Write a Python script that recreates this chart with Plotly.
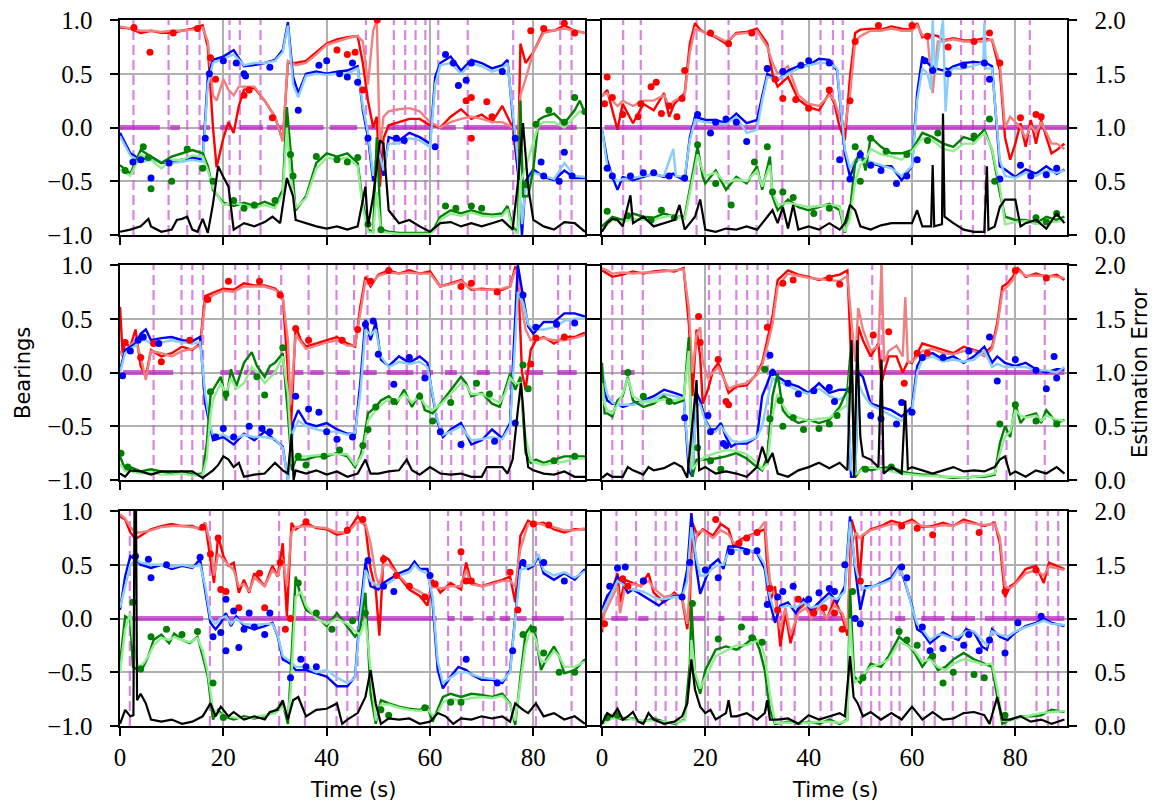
import plotly.graph_objects as go

# ---------------- data: (time, dark line, light line) ----------------
R1 = [(0,0.93,0.94),(2,0.92,0.92),(4,0.88,0.9),(6,0.9,0.9),(8,0.88,0.89),(10,0.88,0.9),(12,0.9,0.9),(14,0.92,0.91),(16,0.95,0.93),(17,0.75,0.8),(18,0.0,0.3),(18.7,-0.37,0.25),(20,-0.1,0.45),(21,0.05,0.35),(22,-0.05,0.3),(23,0.2,0.38),(24,0.35,0.38),(26,0.37,0.38),(28,0.25,0.25),(30,0.1,0.1),(31.5,-0.12,-0.13),(32.5,0.6,0.62),(34,0.6,0.58),(36,0.62,0.6),(38,0.7,0.68),(40,0.78,0.77),(42,0.82,0.8),(44,0.84,0.83),(46,0.85,0.85),(47,0.6,0.8),(48,0.25,0.4),(49,0.0,0.9),(49.7,0.1,1.0),(50.3,-0.55,-0.2),(51,-0.1,0.1),(52,0.02,0.15),(54,0.05,0.17),(56,0.08,0.18),(58,0.08,0.15),(60,0.02,0.05),(62,0.0,0.0),(64,0.1,0.05),(66,0.17,0.08),(68,0.08,0.1),(70,0.12,0.08),(72,0.05,0.05),(74,0.2,0.05),(76,0.0,0.0),(77,-0.4,-0.2),(77.5,0.78,0.3),(78.5,0.6,0.45),(80,0.7,0.7),(82,0.9,0.88),(84,0.9,0.9),(86,0.95,0.92),(88,0.9,0.9),(90,0.88,0.88)]
B1 = [(0,-0.05,-0.08),(2,-0.24,-0.26),(4,-0.3,-0.32),(6,-0.27,-0.3),(8,-0.33,-0.32),(10,-0.32,-0.33),(12,-0.3,-0.32),(14,-0.28,-0.3),(16,-0.3,-0.32),(17,0.47,0.4),(18,0.63,0.6),(20,0.66,0.64),(22,0.72,0.68),(24,0.57,0.58),(26,0.58,0.6),(28,0.6,0.6),(30,0.63,0.62),(31.5,0.72,0.7),(32.5,0.98,0.95),(33.5,0.47,0.4),(34.5,0.32,0.28),(36,0.5,0.48),(38,0.52,0.5),(40,0.5,0.49),(42,0.52,0.5),(44,0.53,0.5),(46,0.57,0.55),(47,0.16,0.2),(48,-0.09,-0.05),(49,-0.5,-0.45),(50,-0.15,-0.2),(51,-0.45,-0.4),(52,-0.09,-0.15),(54,-0.12,-0.15),(56,-0.05,-0.1),(58,-0.09,-0.12),(60,-0.15,-0.18),(61,0.47,0.4),(62,0.6,0.58),(64,0.66,0.6),(66,0.53,0.5),(68,0.63,0.6),(70,0.6,0.57),(72,0.55,0.52),(74,0.58,0.55),(75,0.63,0.6),(76,0.1,0.15),(77,-0.4,-0.3),(77.8,-1.0,-0.9),(78.5,-0.5,-0.55),(80,-0.39,-0.42),(82,-0.46,-0.45),(84,-0.49,-0.48),(86,-0.4,-0.33),(88,-0.47,-0.45),(90,-0.47,-0.46)]
G1 = [(0,-0.35,-0.39),(2,-0.43,-0.45),(4,-0.21,-0.25),(6,-0.27,-0.3),(8,-0.33,-0.38),(10,-0.27,-0.3),(12,-0.24,-0.3),(14,-0.21,-0.26),(16,-0.24,-0.27),(17,-0.36,-0.4),(18,-0.58,-0.56),(20,-0.7,-0.72),(22,-0.73,-0.7),(24,-0.7,-0.72),(26,-0.73,-0.75),(28,-0.69,-0.72),(30,-0.73,-0.75),(31.5,-0.58,-0.62),(32.3,0.19,0.0),(33,-0.24,-0.45),(34,-0.77,-0.75),(36,-0.64,-0.66),(38,-0.33,-0.38),(40,-0.24,-0.28),(42,-0.27,-0.3),(44,-0.24,-0.28),(46,-0.33,-0.36),(47,-0.7,-0.75),(48,-0.95,-0.97),(49,-0.97,-0.98),(49.7,-0.09,-0.6),(50.5,-0.95,-0.97),(52,-0.97,-0.98),(54,-0.98,-0.99),(56,-0.98,-0.99),(58,-0.98,-0.99),(60,-0.98,-0.99),(61,-0.92,-0.95),(62,-0.83,-0.86),(64,-0.77,-0.8),(66,-0.8,-0.82),(68,-0.77,-0.79),(70,-0.8,-0.82),(72,-0.81,-0.83),(74,-0.8,-0.82),(75,-0.73,-0.76),(76,-0.92,-0.95),(77,-0.98,-0.99),(77.5,0.25,-0.5),(78,-0.64,-0.45),(79,-0.64,-0.3),(80,-0.39,-0.15),(81,0.07,0.02),(82,0.1,0.05),(84,0.13,0.05),(86,0.04,0.0),(88,0.16,0.1),(89,0.25,0.15),(90,0.13,0.12)]
E1 = [(0,0.03),(2,0.05),(4,0.08),(5.5,0.15),(6,0.08),(8,0.03),(10,0.05),(11,0.14),(12,0.15),(13,0.17),(14,0.05),(15,0.03),(16,0.15),(17,0.02),(18,0.29),(19,0.64),(20,0.54),(21,0.45),(22,0.05),(24,0.11),(26,0.08),(28,0.12),(29.5,0.17),(31,0.11),(32.3,0.53),(33.5,0.36),(34,0.14),(36,0.11),(38,0.08),(40,0.06),(42,0.08),(44,0.05),(46,0.08),(47.5,0.45),(48,0.08),(49,0.36),(50.3,0.88),(51,0.85),(52,0.23),(53,0.17),(54,0.11),(56,0.14),(58,0.08),(60,0.03),(62,0.11),(64,0.12),(66,0.08),(68,0.11),(70,0.08),(72,0.11),(74,0.14),(76,0.05),(77,0.48),(78,1.04),(79,0.45),(80,0.14),(82,0.08),(84,0.05),(86,0.12),(88,0.11),(90,0.03)]
RD1 = [(2.7,0.93),(5.8,0.7),(10.3,0.88),(15,0.92),(17.5,0.65),(18.5,0.45),(24,0.3),(25,0.35),(29.5,0.09),(42,0.72),(44,0.68),(45.5,0.7),(47,0.35),(49.8,1.0),(67,0.25),(68,0.28),(68,-0.1),(71,0.24),(72,0.1),(79.5,0.9),(82,0.92),(86,0.97),(88,0.88)]
BD1 = [(2.5,-0.32),(4,-0.3),(6,-0.47),(9.5,-0.33),(16.5,-0.1),(17.3,0.5),(20,0.62),(22.5,0.6),(24,0.5),(24.3,0.48),(29,0.56),(34.5,0.16),(38.5,0.58),(40,0.62),(42.5,0.5),(44,0.47),(45,0.6),(46,0.42),(48,-0.1),(53.5,-0.1),(55,-0.12),(61,-0.18),(63,0.68),(64.5,0.6),(65.5,0.39),(67,0.44),(68,0.6),(74,0.52),(76.5,-0.1),(81.5,-0.32),(82,-0.45),(85,-0.5),(86,-0.23),(87.5,-0.45)]
GD1 = [(1,-0.4),(4.5,-0.18),(5.5,-0.28),(6,-0.57),(10,-0.5),(13,-0.2),(16,-0.38),(18,-0.5),(22,-0.68),(24,-0.75),(26,-0.72),(30,-0.68),(33,-0.25),(33.5,-0.45),(38,-0.27),(42,-0.3),(44,-0.32),(46,-0.28),(48,-0.9),(50.5,-0.95),(63,-0.73),(65,-0.75),(68,-0.73),(70,-0.75),(78.5,-0.53),(80.5,0.03),(83,0.16),(86,0.05),(88,0.28),(90,0.15)]
VL1 = [2.6, 9.4, 13.0, 15.4, 21.2, 23.2, 27.2, 47.6, 53.0, 55.2, 57.2, 59.1, 61.6, 67.3, 76.1, 85.2, 87.4]
MB1 = [(0,7.7),(9.7,11.6),(15.5,17.4),(19.4,21.3),(23.2,27.7),(28.4,39.4),(40.6,45.9),(47.8,49.7),(51.6,60.0),(62,65),(66.5,77),(80.6,88.4)]

R2 = [(0,0.29,0.3),(1,0.35,0.32),(2,0.16,0.25),(3,-0.02,0.2),(4,0.22,0.25),(6,0.04,0.2),(8,0.22,0.25),(10,0.16,0.25),(12,0.32,0.3),(13,0.1,0.2),(14,0.22,0.25),(16,0.32,0.3),(17,0.78,0.7),(18,0.97,0.92),(19,0.91,0.9),(20,0.88,0.88),(22,0.84,0.85),(24,0.78,0.8),(26,0.88,0.87),(28,0.89,0.88),(30,0.92,0.9),(32,0.78,0.75),(33,0.5,0.6),(34,0.38,0.5),(36,0.47,0.57),(38,0.26,0.3),(40,0.19,0.22),(42,0.16,0.2),(44,0.32,0.3),(45,0.22,0.25),(46,0.0,0.1),(47,-0.12,0.0),(48,0.47,0.3),(49,0.88,0.8),(50,0.91,0.85),(52,0.92,0.9),(54,0.91,0.9),(56,0.94,0.92),(58,0.92,0.9),(60,0.91,0.9),(61,0.97,0.95),(62,0.84,0.86),(63,0.86,0.84),(64,0.86,0.32),(65,0.85,0.8),(66,0.81,0.8),(68,0.83,0.82),(70,0.81,0.8),(72,0.81,0.8),(74,0.83,0.8),(75.5,0.81,0.82),(77,0.53,0.6),(78,-0.09,0.0),(79,-0.3,0.1),(80,-0.15,0.05),(81,0.04,0.0),(82,-0.18,-0.1),(83,0.07,0.02),(84,-0.15,-0.05),(85,0.07,0.05),(86,-0.09,-0.05),(87,-0.24,-0.15),(88,-0.21,-0.15),(89.5,-0.15,-0.2)]
B2 = [(0,-0.02,-0.02),(1,-0.3,-0.35),(2,-0.46,-0.45),(3,-0.58,-0.5),(4,-0.46,-0.48),(6,-0.49,-0.47),(8,-0.46,-0.45),(10,-0.43,-0.44),(12,-0.46,-0.45),(13.8,-0.43,-0.2),(14.3,-0.45,-0.45),(16,-0.49,-0.46),(17,-0.09,-0.12),(18,0.1,0.07),(20,0.07,0.05),(22,0.07,0.04),(24,0.04,0.03),(26,0.13,0.1),(28,0.04,-0.05),(30,0.07,-0.02),(31,0.29,0.25),(32,0.5,0.47),(34,0.44,0.45),(36,0.53,0.5),(38,0.57,0.55),(40,0.58,0.58),(42,0.64,0.6),(44,0.63,0.6),(45.5,0.53,0.55),(47,-0.24,-0.2),(48,-0.46,-0.38),(49,-0.33,-0.3),(50,-0.27,-0.3),(52,-0.33,-0.32),(54,-0.36,-0.35),(56,-0.36,-0.38),(58,-0.49,-0.45),(60,-0.36,-0.36),(61,0.32,0.25),(62,0.66,0.55),(63,0.6,0.5),(63.7,0.57,0.35),(64,0.57,1.0),(64.5,0.55,0.5),(66,0.53,1.0),(66.5,0.55,0.15),(67,0.54,0.5),(68,0.57,0.55),(70,0.6,0.55),(72,0.61,0.58),(73.8,0.6,0.6),(74,0.6,0.97),(74.3,0.6,0.55),(75.5,0.57,0.55),(77,-0.36,-0.3),(78,-0.39,-0.45),(80,-0.46,-0.47),(82,-0.39,-0.42),(84,-0.43,-0.45),(86,-0.36,-0.4),(88,-0.43,-0.42),(89.5,-0.39,-0.4)]
G2 = [(0,-0.92,-0.95),(2,-0.83,-0.86),(4,-0.86,-0.88),(6,-0.8,-0.85),(8,-0.83,-0.86),(10,-0.84,-0.86),(12,-0.8,-0.83),(14,-0.83,-0.82),(16,-0.83,-0.85),(17,-0.58,-0.6),(18.5,-0.18,-0.25),(19.5,-0.46,-0.4),(20,-0.52,-0.45),(22,-0.4,-0.42),(24,-0.58,-0.52),(26,-0.46,-0.48),(28,-0.52,-0.5),(30,-0.36,-0.4),(31,-0.58,-0.55),(32.5,-0.27,-0.35),(33,-0.64,-0.6),(34,-0.77,-0.72),(36,-0.67,-0.7),(38,-0.74,-0.72),(40,-0.77,-0.74),(42,-0.74,-0.73),(44,-0.71,-0.72),(46,-0.77,-0.73),(47,-0.98,-0.97),(48,-0.77,-0.85),(49,-0.33,-0.5),(50,-0.21,-0.35),(51,-0.4,-0.3),(52,-0.09,-0.2),(54,-0.18,-0.25),(56,-0.24,-0.27),(58,-0.24,-0.3),(60,-0.21,-0.22),(62,-0.05,-0.1),(64,-0.09,-0.12),(66,-0.15,-0.2),(68,-0.18,-0.22),(70,-0.09,-0.15),(72,-0.12,-0.15),(74,-0.02,-0.05),(75.5,-0.21,-0.2),(77,-0.61,-0.55),(78,-0.83,-0.9),(80,-0.86,-0.88),(82,-0.86,-0.87),(84,-0.89,-0.9),(86,-0.83,-0.87),(88,-0.86,-0.88),(89.5,-0.83,-0.85)]
E2 = [(0,0.03),(1,0.11),(2,0.15),(3,0.14),(4,0.08),(5.5,0.37),(6,0.11),(8,0.17),(10,0.08),(12,0.11),(14,0.14),(15,0.28),(16,0.05),(18,0.17),(19,0.33),(20,0.05),(22,0.03),(24,0.06),(26,0.05),(28,0.08),(30,0.05),(32,0.17),(33,0.23),(34,0.11),(35,0.26),(36,0.06),(37,0.28),(38,0.05),(40,0.08),(42,0.05),(44,0.11),(46,0.05),(47,0.11),(48,0.28),(49,0.23),(50,0.08),(52,0.05),(54,0.09),(56,0.11),(58,0.11),(60,0.11),(61,0.23),(62,0.08),(63.7,0.08),(64,0.65),(64.3,0.08),(65.8,0.1),(66,1.13),(66.3,0.17),(68,0.11),(70,0.05),(72,0.03),(74,0.03),(74.5,0.64),(74.8,0.05),(76,0.08),(77,0.26),(78,0.33),(80,0.33),(81,0.08),(82,0.11),(84,0.14),(86,0.06),(88,0.2),(89.5,0.11)]
RD2 = [(0.5,0.22),(1,0.47),(2,0.28),(4,0.12),(7,0.1),(7.5,0.22),(9.5,0.38),(10.5,0.42),(11.5,0.13),(13,0.2),(14.5,0.1),(15.5,0.27),(16,0.53),(21,0.88),(24.5,0.78),(29,0.88),(32,0.55),(33.5,0.45),(35,0.27),(37.5,0.26),(40,0.18),(44,0.35),(48,0.25),(49,0.8),(53.5,0.95),(60,0.95),(63,0.85),(67,0.75),(72,0.8),(75,0.88),(77,0.6),(81,0.09),(84,0.12),(85,0.1)]
BD2 = [(1,-0.38),(2,-0.45),(5.5,-0.45),(8,-0.42),(10,-0.42),(13,-0.45),(16,-0.47),(18.5,0.12),(21,-0.05),(22,0.05),(24,0.08),(26,0.05),(28,-0.13),(32,0.55),(35,0.52),(38.5,0.58),(40,0.62),(44,0.6),(46,-0.3),(48,-0.48),(50,-0.25),(52,-0.35),(54,-0.4),(57,-0.52),(59,-0.45),(61,-0.3),(62.5,0.62),(64,0.53),(67,0.5),(70,0.58),(74,0.6),(75,0.45),(77,-0.48),(81,-0.35),(83,-0.45),(86,-0.44),(88,-0.38)]
GD2 = [(1,-0.78),(5,-0.82),(9.5,-0.86),(11.5,-0.77),(14,-0.84),(18.5,-0.16),(22,-0.52),(25,-0.72),(29.5,-0.32),(32,-0.18),(33,-0.6),(35,-0.6),(37,-0.65),(41,-0.8),(44,-0.75),(49,-0.18),(50,-0.5),(52,-0.1),(55,-0.22),(59,-0.25),(63,-0.12),(65,-0.05),(72,-0.08),(75,0.08),(76,-0.5),(84,-0.84),(86,-0.88),(88,-0.8)]
VL2 = [4.1, 7.5, 18.3, 24.5, 29.9, 34.9, 42.3, 44.7, 46.6, 69.5, 71.8, 74.1, 82.8]
MB2 = [(0.5,90)]

R3 = [(0,0.61,0.2),(0.5,0.18,0.15),(1,0.27,0.2),(2,0.24,0.25),(3,0.4,0.3),(4,0.06,0.15),(5,-0.04,-0.07),(6,0.21,0.2),(8,0.15,0.18),(10,0.18,0.15),(12,0.24,0.2),(14,0.21,0.22),(15.5,0.27,0.25),(16.5,0.71,0.65),(18,0.74,0.72),(20,0.78,0.76),(22,0.77,0.75),(24,0.83,0.8),(26,0.81,0.8),(28,0.81,0.8),(30,0.78,0.77),(31.5,0.71,0.7),(32.5,0.0,0.3),(33,-0.6,-0.3),(34,0.43,0.35),(35,0.3,0.28),(36,0.24,0.22),(38,0.27,0.25),(40,0.3,0.28),(42,0.33,0.3),(44,0.27,0.25),(45.5,0.24,0.25),(46.5,0.61,0.55),(47.5,0.89,0.85),(48.5,0.8,0.82),(50,0.91,0.9),(52,0.95,0.93),(54,0.92,0.92),(56,0.95,0.93),(58,0.92,0.92),(60,0.94,0.92),(62,0.8,0.8),(64,0.83,0.82),(66,0.86,0.85),(68,0.77,0.78),(70,0.78,0.77),(72,0.77,0.77),(74,0.77,0.78),(75.5,0.8,0.8),(76.5,0.98,0.95),(77,0.97,0.9),(77.8,0.0,0.6),(78.5,-0.16,0.4),(79.5,0.21,0.3),(80.5,0.3,0.3),(82,0.33,0.32),(84,0.27,0.3),(86,0.33,0.3),(88,0.33,0.32),(90,0.37,0.35)]
B3 = [(0,0.02,0.0),(1,0.21,0.18),(2,0.24,0.22),(3,0.27,0.25),(4,0.36,0.3),(5,0.4,0.3),(6,0.3,0.27),(8,0.32,0.28),(10,0.33,0.3),(12,0.3,0.28),(14,0.29,0.27),(15.5,0.33,0.28),(16.5,-0.29,-0.2),(17.5,-0.53,-0.5),(18,-0.63,-0.58),(20,-0.6,-0.58),(22,-0.67,-0.62),(24,-0.57,-0.58),(26,-0.63,-0.6),(28,-0.55,-0.6),(30,-0.63,-0.62),(31.5,-0.69,-0.7),(32.5,-1.0,-1.0),(33.5,-0.47,-0.55),(34.5,-0.35,-0.45),(36,-0.47,-0.5),(38,-0.5,-0.53),(40,-0.47,-0.55),(42,-0.53,-0.55),(44,-0.57,-0.58),(45.5,-0.57,-0.56),(46.5,-0.1,-0.2),(47.5,0.49,0.4),(48.5,0.3,0.35),(49.5,0.47,0.4),(50.5,0.12,0.15),(52,0.06,0.05),(54,0.15,0.1),(56,0.09,0.08),(58,0.15,0.1),(59.5,0.09,0.05),(60.5,-0.22,-0.2),(61.5,-0.47,-0.45),(62.5,-0.6,-0.58),(64,-0.53,-0.55),(66,-0.47,-0.5),(68,-0.67,-0.63),(70,-0.63,-0.62),(72,-0.53,-0.6),(74,-0.61,-0.62),(75.5,-0.47,-0.5),(76.5,0.47,0.3),(77,1.0,0.75),(78,0.71,0.65),(79,0.43,0.45),(80,0.36,0.4),(82,0.47,0.4),(84,0.47,0.42),(86,0.55,0.48),(88,0.55,0.5),(90,0.52,0.5)]
G3 = [(0,-0.78,-0.85),(1,-0.9,-0.92),(2,-0.88,-0.92),(4,-0.92,-0.94),(6,-0.9,-0.93),(8,-0.92,-0.95),(10,-0.94,-0.95),(12,-0.92,-0.94),(14,-0.95,-0.96),(16,-0.94,-0.95),(16.8,-0.66,-0.8),(17.5,-0.22,-0.4),(18,-0.16,-0.25),(19.5,-0.04,-0.1),(20.5,-0.26,-0.2),(21.5,0.03,-0.05),(22.5,-0.13,-0.15),(24,0.09,-0.1),(25.5,0.19,0.05),(26.5,0.06,0.0),(28,-0.04,-0.1),(29,0.06,-0.05),(30,0.09,0.0),(31.5,0.18,0.15),(32.5,-0.38,-0.2),(33.3,-0.91,-0.85),(34,-0.81,-0.78),(36,-0.81,-0.78),(38,-0.78,-0.77),(40,-0.78,-0.76),(42,-0.75,-0.76),(44,-0.78,-0.76),(45.5,-0.88,-0.86),(46.5,-0.78,-0.8),(47,-0.69,-0.75),(48,-0.38,-0.45),(49.5,-0.32,-0.35),(50.5,-0.26,-0.3),(52,-0.22,-0.25),(53.5,-0.29,-0.27),(55,-0.16,-0.2),(56.5,-0.32,-0.28),(58,-0.19,-0.22),(59,-0.35,-0.3),(60.5,-0.38,-0.35),(62,-0.29,-0.3),(64,-0.16,-0.2),(66,-0.04,-0.1),(67,-0.1,-0.12),(68,-0.22,-0.2),(70,-0.19,-0.2),(72,-0.29,-0.25),(73.5,-0.32,-0.28),(74.5,-0.16,-0.2),(75.5,-0.01,-0.05),(76.5,-0.16,-0.1),(77.5,-0.04,-0.1),(78.5,-0.75,-0.6),(79.5,-0.84,-0.82),(80.5,-0.81,-0.84),(82,-0.84,-0.86),(84,-0.81,-0.84),(86,-0.78,-0.83),(88,-0.78,-0.8),(90,-0.78,-0.8)]
E3 = [(0,0.06),(1,0.03),(2,0.09),(4,0.08),(6,0.05),(8,0.08),(10,0.08),(12,0.08),(14,0.08),(16,0.02),(18,0.09),(19,0.14),(20,0.22),(21,0.19),(22,0.12),(23,0.16),(24,0.03),(26,0.05),(28,0.06),(30,0.16),(31.5,0.09),(32.5,0.06),(33.2,0.43),(33.6,0.0),(34,0.09),(36,0.06),(38,0.09),(40,0.05),(42,0.08),(44,0.03),(46,0.06),(47.5,0.19),(48.5,0.06),(50,0.06),(52,0.08),(54,0.09),(55.5,0.19),(56.5,0.09),(58,0.05),(60,0.12),(62,0.06),(64,0.05),(66,0.06),(68,0.03),(70,0.03),(71,0.12),(74,0.12),(75,0.06),(76,0.19),(77,0.65),(77.6,0.9),(78,0.68),(78.5,0.31),(79,0.12),(80,0.09),(82,0.06),(84,0.05),(86,0.08),(88,0.03),(90,0.03)]
RD3 = [(1,0.28),(4,0.14),(6.5,0.27),(8,0.1),(13.5,0.3),(17,0.68),(21,0.85),(27,0.85),(31,0.72),(34,0.41),(36.5,0.3),(43,0.3),(46,0.4),(48.5,0.85),(52,0.95),(66,0.8),(68,0.83),(73,0.75),(79.5,0.08),(80.5,0.32),(86,0.33)]
BD3 = [(0.5,-0.03),(2,0.2),(3.5,0.3),(4.5,0.33),(7.5,0.27),(18.5,-0.6),(20,-0.52),(22,-0.6),(25,-0.5),(27.5,-0.52),(29,-0.55),(34,-0.22),(36.5,-0.34),(38.5,-0.37),(40,-0.55),(42,-0.62),(45,-0.6),(47.5,0.45),(49,0.48),(50,0.17),(53,-0.11),(56,0.14),(59,-0.05),(62,-0.55),(66,-0.67),(72.5,-0.64),(76.5,-0.47),(78,0.72),(80.5,0.42),(84.5,0.45),(88,0.46)]
GD3 = [(0.2,-0.75),(1.5,-0.88),(17.5,-0.18),(20.5,-0.2),(26.5,-0.04),(28,-0.21),(31.5,0.23),(34.5,-0.78),(36,-0.86),(39.5,-0.78),(42.5,-0.72),(47,-0.68),(48,-0.53),(49.5,-0.32),(53,-0.27),(58,-0.22),(60.5,-0.45),(64,-0.28),(69,-0.1),(71.5,-0.2),(78,0.07),(79,-0.15),(84,-0.82),(88,-0.78)]
VL3 = [6.5, 11.9, 14.0, 16.1, 22.3, 24.7, 26.9, 31.2, 36.5, 41.9, 45.3, 47.9, 52.1, 55.5, 57.5, 62.3, 64.1, 66.3, 68.6, 71.0, 73.5, 75.5, 84.8, 87.1]
MB3 = [(0.6,10.3),(19.4,21.3),(22.5,23.3),(24,26.5),(28.3,30.3),(33.5,35.5),(36.8,39.4),(42,44.5),(47,49.7),(51.6,56.8),(58.4,60.6),(62.9,65.2),(69,71.6),(78.3,81.9),(84.8,88.4)]

R4 = [(0,0.95,0.97),(1,0.92,0.95),(2,0.89,0.92),(4,0.91,0.93),(6,0.94,0.92),(8,0.92,0.93),(10,0.94,0.93),(12,0.95,0.94),(14,0.94,0.95),(15.8,0.97,0.96),(16.8,0.46,0.6),(17.5,-0.22,0.0),(18.3,0.4,0.35),(19,0.15,0.42),(19.5,-0.29,0.1),(20.5,-0.16,-0.05),(21.5,0.02,0.0),(22.5,0.09,0.05),(23.5,-0.04,-0.05),(24.5,-0.19,-0.15),(26,-0.13,-0.12),(28,-0.12,-0.1),(30,-0.01,-0.02),(31,0.09,0.07),(32,0.3,0.25),(33,0.52,0.45),(34,0.86,0.8),(36,0.95,0.92),(38,0.91,0.9),(40,0.89,0.88),(42,0.86,0.87),(44,0.89,0.86),(46,0.91,0.85),(47.5,0.95,0.9),(48.2,0.15,0.5),(49,-0.97,0.1),(49.6,0.43,0.6),(50.5,0.3,0.4),(52,0.15,0.2),(53.5,0.27,0.25),(54.1,-0.1,1.0),(54.6,0.0,0.1),(55.5,0.15,0.2),(57,0.15,0.25),(58.2,0.0,0.15),(58.7,0.05,0.7),(59.2,0.1,0.1),(60,0.09,0.1),(61,0.18,0.15),(62,0.27,0.2),(64,0.24,0.22),(66,0.21,0.18),(68,0.18,0.17),(70,0.24,0.2),(72,0.21,0.2),(74,0.18,0.15),(75.5,0.24,0.22),(76.5,0.46,0.42),(77.5,0.8,0.75),(78.5,0.83,0.8),(79.5,0.89,0.86),(80.5,0.97,0.95),(82,0.89,0.9),(84,0.92,0.9),(86,0.89,0.9),(88,0.91,0.89),(89.5,0.86,0.88)]
B4 = [(0,-0.1,0.03),(1,-0.26,-0.2),(2,-0.29,-0.28),(3,-0.29,-0.3),(4,-0.32,-0.3),(6,-0.29,-0.3),(8,-0.26,-0.27),(10,-0.22,-0.25),(12,-0.16,-0.2),(14,-0.19,-0.22),(15.8,-0.22,-0.25),(16.8,-0.91,-0.8),(17.5,-0.97,-0.95),(18.3,-0.19,-0.3),(19,-0.26,-0.3),(20,-0.44,-0.45),(21,-0.53,-0.55),(22,-0.53,-0.55),(23,-0.47,-0.5),(24,-0.6,-0.57),(25,-0.69,-0.63),(26,-0.66,-0.65),(28,-0.66,-0.64),(30,-0.6,-0.6),(31,-0.22,-0.5),(32,-0.1,-0.25),(33,0.03,-0.05),(34,-0.04,-0.08),(36,-0.1,-0.12),(38,-0.13,-0.17),(40,-0.19,-0.2),(42,-0.1,-0.15),(44,-0.19,-0.22),(46,-0.16,-0.25),(47.5,-0.16,-0.2),(48.2,-0.97,-0.9),(49,-0.97,-0.97),(49.6,0.0,-0.1),(50.5,-0.04,-0.2),(52,-0.29,-0.3),(54,-0.32,-0.35),(56,-0.35,-0.4),(58,-0.41,-0.45),(60,-0.32,-0.35),(61,0.06,0.0),(62,0.15,0.12),(64,0.18,0.15),(66,0.12,0.1),(68,0.15,0.12),(70,0.09,0.1),(72,0.15,0.12),(74,0.24,0.2),(75.5,0.09,0.05),(76.5,0.15,0.08),(78,0.09,0.05),(80,0.06,0.05),(82,0.09,0.05),(84,0.03,0.02),(86,0.0,0.02),(88,0.03,0.0),(89.5,0.03,0.05)]
G4 = [(0,0.09,-0.1),(0.5,-0.38,-0.3),(1,-0.38,-0.35),(2,-0.41,-0.38),(3,-0.26,-0.3),(4,-0.22,-0.2),(5,-0.04,-0.05),(6,-0.26,-0.22),(8,-0.32,-0.28),(10,-0.29,-0.27),(12,-0.22,-0.25),(14,-0.29,-0.26),(15.8,-0.26,-0.24),(16.8,0.33,0.2),(17.5,-0.97,-0.9),(18.3,-0.81,-0.85),(20,-0.81,-0.78),(22,-0.8,-0.75),(24,-0.78,-0.72),(26,-0.75,-0.73),(28,-0.8,-0.76),(30,-0.88,-0.84),(31,-0.91,-0.9),(32,-0.78,-0.85),(33,-0.22,-0.4),(34,-0.01,-0.2),(35,-0.35,-0.3),(36,-0.41,-0.38),(38,-0.47,-0.42),(40,-0.44,-0.45),(42,-0.47,-0.43),(44,-0.44,-0.42),(46,-0.32,-0.35),(47.5,-0.16,-0.3),(48.2,0.24,0.1),(49,-0.97,-0.95),(50.5,-0.88,-0.9),(52,-0.91,-0.88),(54,-0.89,-0.9),(56,-0.88,-0.92),(58,-0.92,-0.94),(60,-0.94,-0.95),(62,-0.95,-0.96),(64,-0.95,-0.96),(66,-0.97,-0.97),(68,-0.98,-0.97),(70,-0.98,-0.98),(72,-0.97,-0.97),(74,-0.97,-0.96),(76,-0.95,-0.94),(77,-0.66,-0.75),(78,-0.5,-0.6),(79,-0.6,-0.55),(80,-0.29,-0.35),(81,-0.47,-0.4),(82,-0.41,-0.42),(84,-0.38,-0.4),(85,-0.47,-0.45),(86,-0.35,-0.4),(88,-0.47,-0.44),(89.5,-0.44,-0.45)]
E4 = [(0,0.02),(1,0.06),(2,0.03),(4,0.03),(5,0.12),(6,0.09),(8,0.05),(9,0.12),(10,0.09),(12,0.11),(14,0.16),(15.5,0.12),(16.5,0.02),(17.5,0.53),(18.3,0.93),(18.8,0.09),(20,0.12),(21,0.09),(22,0.06),(24,0.08),(26,0.06),(28,0.03),(30,0.12),(31,0.31),(32,0.16),(33,0.25),(34,0.06),(36,0.03),(38,0.09),(40,0.12),(42,0.16),(44,0.11),(46,0.16),(47.5,0.09),(48.3,1.3),(48.8,0.03),(49.4,1.3),(50,0.4),(50.5,0.22),(52,0.19),(53.5,0.12),(54.1,1.12),(54.5,0.06),(56,0.12),(58,0.06),(58.7,0.74),(59.2,0.1),(60,0.12),(62,0.09),(64,0.06),(66,0.09),(68,0.12),(70,0.08),(72,0.09),(74,0.08),(76,0.12),(77,0.19),(78,0.22),(79,0.05),(80,0.08),(82,0.03),(84,0.09),(86,0.06),(88,0.12),(89.5,0.06)]
RD4 = [(18.7,0.52),(19,0.28),(22.5,0.12),(24,-0.27),(24.5,-0.3),(32,0.42),(35,0.83),(37,0.86),(44,0.88),(46,0.82),(52.5,0.35),(55.5,0.38),(58.5,-0.1),(61,0.18),(63,0.18),(80,0.95),(86,0.88)]
BD4 = [(16,-0.42),(20.5,-0.4),(21,-0.55),(23.5,-0.66),(24,-0.68),(32.5,0.16),(33,0.0),(36,-0.1),(38,-0.2),(41,-0.17),(44,-0.14),(45,-0.27),(52,-0.4),(54,-0.43),(57,-0.48),(58,-0.28),(60,-0.37),(62,0.14),(66,0.14),(71,0.2),(75,0.33),(76.5,-0.08),(80,0.12),(84,0.02),(86,-0.15),(87.5,0.15),(88,-0.05)]
GD4 = [(5,0.0),(8,-0.22),(13,-0.27),(18.5,-0.7),(21,-0.82),(23,-0.9),(31.5,0.03),(32.5,-0.43),(34.5,-0.26),(35,-0.5),(37,-0.42),(39,-0.53),(42,-0.52),(44,-0.48),(45.5,-0.4),(48,-0.16),(51,-0.9),(56,-0.88),(77,-0.48),(80,-0.3),(84,-0.45),(88,-0.48)]
VL4 = [2.0, 3.9, 7.9, 20.7, 22.8, 26.0, 28.1, 30.1, 32.1, 52.3, 54.1, 70.8, 78.3, 85.7]
MB4 = [(3.7,6.3),(33.7,89.5)]

R5 = [(0,0.95,0.97),(1,0.92,0.93),(2,0.8,0.85),(3,0.74,0.8),(4,0.77,0.8),(6,0.83,0.82),(8,0.86,0.85),(10,0.88,0.86),(12,0.86,0.86),(14,0.86,0.85),(15.5,0.83,0.84),(16.5,0.89,0.88),(17.5,0.55,0.7),(18.2,0.33,0.4),(19,0.77,0.6),(20,0.58,0.55),(21,0.49,0.5),(22,0.52,0.45),(23,0.24,0.3),(24,0.36,0.32),(25,0.24,0.25),(26,0.42,0.38),(28,0.3,0.3),(29.5,0.49,0.45),(30.5,0.39,0.4),(31.5,0.7,0.55),(32.3,0.02,0.3),(33.2,0.89,0.8),(34,0.83,0.85),(36,0.89,0.86),(38,0.84,0.85),(40,0.83,0.84),(42,0.78,0.8),(44,0.8,0.8),(46,0.95,0.9),(47.5,0.86,0.88),(48.5,0.46,0.7),(49.5,0.27,0.4),(50.2,-0.16,0.3),(51,0.58,0.5),(52,0.55,0.5),(54,0.39,0.4),(56,0.27,0.3),(58,0.21,0.25),(59.5,0.12,0.2),(60.5,0.36,0.3),(62,0.24,0.28),(64,0.33,0.3),(66,0.27,0.3),(67,0.52,0.45),(68,0.33,0.32),(70,0.3,0.3),(72,0.33,0.32),(74,0.36,0.35),(75.5,0.39,0.35),(76.5,0.15,0.3),(77.5,0.77,0.65),(79,0.91,0.88),(80,0.88,0.9),(82,0.89,0.87),(84,0.83,0.85),(86,0.8,0.82),(88,0.83,0.82),(90,0.83,0.84)]
B5 = [(0,0.08,0.1),(1,0.39,0.3),(2,0.58,0.5),(3,0.55,0.55),(4,0.5,0.52),(6,0.47,0.5),(8,0.5,0.5),(10,0.46,0.48),(12,0.49,0.5),(14,0.47,0.48),(15.5,0.55,0.5),(16.5,0.27,0.3),(17.5,-0.04,0.0),(18.5,-0.1,-0.05),(19.5,-0.04,0.0),(20.5,0.05,0.02),(21.5,-0.07,-0.05),(22.5,0.02,0.0),(24,-0.07,-0.05),(26,-0.1,-0.06),(28,-0.07,-0.05),(29.5,-0.04,-0.05),(30.5,-0.16,-0.15),(31.5,-0.38,-0.35),(33,-0.42,-0.4),(34,-0.48,-0.45),(36,-0.48,-0.45),(38,-0.51,-0.5),(40,-0.54,-0.48),(42,-0.63,-0.55),(44,-0.63,-0.6),(45.5,-0.54,-0.55),(46.5,0.08,0.0),(47.5,0.52,0.45),(48.5,0.3,0.35),(50,0.27,0.3),(51,0.33,0.3),(52,0.36,0.33),(54,0.42,0.4),(56,0.46,0.43),(57,0.53,0.5),(58,0.46,0.45),(59.5,0.46,0.42),(60.5,0.15,0.2),(61.5,-0.48,-0.4),(62.5,-0.65,-0.6),(64,-0.54,-0.55),(65.5,-0.45,-0.5),(67,-0.48,-0.5),(68,-0.52,-0.52),(70,-0.57,-0.55),(72,-0.57,-0.56),(74,-0.6,-0.58),(75.5,-0.48,-0.5),(76.5,0.05,0.0),(77.5,0.52,0.45),(79,0.46,0.48),(80,0.49,0.5),(81,0.58,0.6),(82,0.42,0.45),(84,0.36,0.4),(86,0.42,0.43),(88,0.36,0.38),(90,0.46,0.44)]
G5 = [(0,-0.42,-0.5),(1,0.02,-0.1),(2,-0.01,0.05),(2.5,-0.45,-0.2),(3.5,-0.48,-0.45),(4.5,-0.45,-0.42),(5.5,-0.35,-0.35),(6.5,-0.2,-0.25),(8,-0.15,-0.18),(9.5,-0.23,-0.2),(10.5,-0.14,-0.17),(12,-0.2,-0.2),(13.5,-0.23,-0.22),(15,-0.17,-0.18),(16,-0.35,-0.3),(17,-0.54,-0.5),(18,-0.94,-0.85),(19,-0.85,-0.88),(20,-0.91,-0.9),(22,-0.94,-0.92),(24,-0.91,-0.93),(26,-0.93,-0.92),(28,-0.91,-0.9),(30,-0.86,-0.88),(31.5,-0.79,-0.82),(32.5,-0.98,-0.9),(33,-0.54,-0.7),(34,0.39,0.2),(35,0.21,0.25),(36,0.08,0.12),(38,0.02,0.0),(40,-0.07,-0.05),(42,0.05,0.0),(44,-0.07,-0.05),(45.5,-0.17,-0.12),(46.5,-0.1,-0.15),(47.5,0.24,0.0),(48.5,-0.7,-0.5),(49.5,-0.98,-0.95),(50.5,-0.76,-0.8),(52,-0.79,-0.8),(54,-0.82,-0.83),(56,-0.84,-0.85),(58,-0.85,-0.86),(59.5,-0.82,-0.84),(60.5,-0.96,-0.9),(61.5,-0.85,-0.88),(62.5,-0.73,-0.78),(64,-0.7,-0.75),(66,-0.73,-0.76),(68,-0.7,-0.74),(70,-0.71,-0.73),(72,-0.73,-0.74),(74,-0.7,-0.72),(75.5,-0.79,-0.8),(76.5,-0.99,-0.95),(77.5,-0.54,-0.6),(78.5,-0.14,-0.25),(79.5,-0.07,-0.1),(80.5,-0.17,-0.2),(81.5,-0.48,-0.4),(82.5,-0.38,-0.4),(84,-0.26,-0.3),(85,-0.35,-0.35),(86,-0.51,-0.45),(88,-0.48,-0.45),(90,-0.38,-0.4)]
E5 = [(0,0.02),(1,0.15),(2,0.09),(2.6,0.1),(2.8,1.99),(3.1,1.99),(3.3,0.24),(4,0.3),(5,0.21),(6,0.06),(8,0.04),(10,0.06),(12,0.02),(14,0.04),(16,0.09),(17.5,0.21),(18.5,0.09),(19.5,0.18),(21,0.09),(22,0.13),(24,0.06),(26,0.09),(28,0.06),(29,0.13),(30.5,0.15),(31.5,0.24),(32.5,0.06),(33.5,0.24),(34.5,0.27),(36,0.09),(38,0.15),(40,0.16),(42,0.21),(43,0.02),(44,0.06),(46,0.12),(47.5,0.27),(48.5,0.52),(49.5,0.21),(50.5,0.02),(52,0.07),(54,0.06),(56,0.07),(58,0.02),(60,0.04),(61.5,0.12),(63,0.09),(64.5,0.02),(66,0.07),(68,0.06),(70,0.09),(72,0.07),(74,0.09),(75.5,0.04),(76.5,0.21),(78,0.15),(79,0.12),(80.5,0.21),(82,0.09),(84,0.12),(86,0.06),(88,0.09),(90,0.02)]
RD5 = [(16,0.85),(17.5,0.6),(19,0.75),(19.5,0.27),(20.5,0.25),(23,0.1),(27,0.42),(28,0.1),(31,0.52),(32,-0.1),(33,0.0),(36,0.9),(44,0.82),(47,0.92),(51,0.55),(53.5,0.4),(56,0.3),(59,0.2),(61,0.32),(66,0.62),(67,0.35),(68,0.35),(75.5,0.43),(77,0.08),(80,0.88),(83,0.87)]
BD5 = [(3,0.58),(5.5,0.55),(6,0.38),(9,0.5),(15.5,0.57),(18,-0.17),(19.5,-0.13),(20.5,-0.3),(20.5,0.18),(22,0.07),(23,-0.27),(24,-0.1),(25,0.05),(26,-0.08),(28,-0.15),(29,0.05),(33,-0.55),(35,-0.38),(36,-0.45),(38,-0.45),(48,0.54),(51,0.3),(53,0.25),(60,0.4),(67,-0.38),(73,-0.6),(76,-0.3),(78,0.52),(82,0.52),(86,0.35)]
GD5 = [(2.5,0.15),(4,-0.47),(6,-0.17),(9,-0.1),(12,-0.15),(15,-0.12),(18,-0.6),(20,-0.92),(34.5,0.33),(38,0.05),(41,-0.1),(45,-0.02),(47.5,0.05),(50.5,-0.85),(52,-0.9),(59,-0.83),(64,-0.78),(66,-0.78),(78,-0.15),(80,-0.1),(82,-0.32),(85,-0.5),(88,-0.5)]
VL5 = [1.9, 17.4, 30.8, 35.8, 41.9, 44.0, 46.0, 63.5, 66.0, 70.3, 72.4, 74.8, 80.5, 87.4]
MB5 = [(1.9,16.1),(17.4,61.3),(63.5,64.8),(66.4,68.4),(70.9,72.2),(73.5,75.5),(76.8,78.7),(79.7,85.9)]

R6 = [(0,-0.13,-0.1),(0.5,0.15,0.05),(1,0.18,0.1),(2,0.27,0.2),(3,0.42,0.3),(3.5,0.15,0.05),(4.5,0.36,0.3),(6,0.33,0.32),(7.5,0.3,0.3),(9,0.42,0.35),(10,0.24,0.28),(12,0.15,0.2),(14,0.24,0.22),(15.5,0.18,0.2),(16.5,-0.1,-0.05),(17,0.15,0.3),(17.5,0.89,0.6),(18.5,0.77,0.8),(19.5,0.83,0.82),(20.5,0.8,0.78),(21.5,0.77,0.75),(23,0.88,0.82),(24.5,0.83,0.78),(25.5,0.67,0.7),(27,0.74,0.72),(28.5,0.77,0.76),(30,0.8,0.8),(31.5,0.83,0.9),(32.5,0.15,0.35),(33.5,0.3,0.2),(34.5,-0.26,-0.1),(35.5,0.05,0.1),(36.5,-0.23,-0.15),(38,0.08,0.05),(39.5,0.15,0.1),(40.5,0.02,0.0),(42,0.15,0.1),(43.5,-0.01,0.0),(45,0.18,0.12),(46.5,0.02,0.05),(47.5,-0.16,-0.1),(48.3,0.92,0.7),(49.2,0.77,0.8),(49.8,0.35,0.75),(50.5,0.77,0.78),(52,0.83,0.82),(54,0.86,0.85),(56,0.91,0.88),(58,0.88,0.87),(60,0.92,0.9),(62,0.85,0.86),(64,0.86,0.85),(66,0.89,0.87),(68,0.86,0.86),(70,0.92,0.9),(72,0.89,0.88),(74,0.86,0.87),(76,0.89,0.88),(77,0.7,0.75),(78,0.2,0.3),(79,0.3,0.28),(80,0.33,0.32),(82,0.46,0.42),(84,0.49,0.45),(85.5,0.33,0.4),(86.5,0.52,0.48),(88,0.49,0.47),(89.5,0.46,0.45)]
B6 = [(0,0.08,0.05),(1,0.21,0.15),(2,0.27,0.25),(3,0.39,0.35),(4,0.33,0.32),(5,0.24,0.28),(6,0.27,0.27),(8,0.21,0.25),(10,0.15,0.2),(11,0.12,0.18),(12,0.16,0.18),(14,0.21,0.2),(15.5,0.21,0.2),(16.5,0.46,0.35),(17.3,0.98,0.85),(18.3,0.46,0.55),(19,0.23,0.4),(20,0.36,0.4),(21,0.49,0.45),(22.5,0.55,0.5),(23.5,0.46,0.5),(24.5,0.67,0.62),(26,0.67,0.64),(28,0.64,0.63),(30,0.61,0.62),(31.5,0.46,0.5),(32.5,0.15,0.2),(33.5,-0.04,0.05),(34.5,0.12,0.1),(36,0.15,0.12),(37.5,0.05,0.1),(39,0.18,0.15),(40.5,0.08,0.1),(42,0.15,0.12),(44,0.24,0.2),(45.5,0.15,0.18),(47,0.3,0.25),(48,0.95,0.9),(49,0.46,0.5),(50,0.08,0.3),(51,0.3,0.28),(52.5,0.3,0.3),(54,0.33,0.32),(56,0.38,0.36),(57.5,0.49,0.47),(58.5,0.36,0.38),(60,0.12,0.1),(61,-0.1,-0.05),(62,-0.13,-0.1),(63.5,-0.23,-0.2),(65,-0.17,-0.15),(66,-0.13,-0.15),(67.5,-0.17,-0.18),(69,-0.2,-0.17),(70.5,-0.1,-0.12),(72,-0.13,-0.12),(73.5,-0.26,-0.2),(74.5,-0.29,-0.25),(75.5,-0.1,-0.12),(77,-0.17,-0.15),(78.5,-0.2,-0.17),(80,-0.13,-0.12),(82,-0.07,-0.08),(84,-0.04,-0.05),(85.5,0.0,-0.02),(87,-0.04,-0.05),(89.5,-0.07,-0.06)]
G6 = [(0,-0.98,-0.97),(2,-0.91,-0.93),(4,-0.94,-0.92),(6,-0.93,-0.94),(8,-0.96,-0.95),(10,-0.93,-0.95),(12,-0.96,-0.96),(14,-0.98,-0.97),(16,-0.94,-0.95),(17,-0.42,-0.6),(17.3,0.14,-0.2),(18,-0.54,-0.5),(19,-0.7,-0.65),(20,-0.48,-0.55),(22,-0.29,-0.35),(24,-0.26,-0.3),(26,-0.29,-0.25),(28,-0.23,-0.25),(29.5,-0.17,-0.22),(30.5,-0.29,-0.2),(31.5,-0.48,-0.35),(32.5,-0.85,-0.7),(33.5,-0.98,-0.97),(36,-0.96,-0.97),(38,-0.98,-0.97),(40,-0.96,-0.97),(42,-0.98,-0.96),(44,-0.94,-0.96),(46,-0.98,-0.97),(47.5,-0.94,-0.95),(48,0.27,0.0),(48.8,-0.54,-0.6),(50,-0.6,-0.55),(52,-0.42,-0.45),(54,-0.45,-0.42),(55.5,-0.35,-0.38),(57.5,-0.17,-0.22),(59,-0.23,-0.25),(60.5,-0.32,-0.3),(62,-0.45,-0.4),(63.5,-0.35,-0.38),(65,-0.48,-0.45),(66.5,-0.45,-0.48),(68,-0.38,-0.42),(70,-0.32,-0.38),(72,-0.38,-0.4),(74,-0.42,-0.43),(75.5,-0.45,-0.42),(76.5,-0.73,-0.65),(77.5,-0.98,-0.95),(79,-0.94,-0.95),(81,-0.91,-0.92),(83,-0.91,-0.9),(85,-0.9,-0.88),(87,-0.85,-0.87),(89.5,-0.87,-0.86)]
E6 = [(0,0.02),(1,0.12),(2,0.09),(3,0.16),(4,0.06),(5,0.09),(6,0.13),(7,0.04),(8,0.02),(9,0.12),(10,0.06),(12,0.02),(14,0.04),(15.5,0.09),(16.5,0.21),(17.3,0.62),(18,0.34),(19,0.18),(20,0.12),(21,0.15),(22,0.06),(24,0.12),(24.5,0.24),(25,0.09),(26,0.09),(28,0.12),(30,0.06),(31.5,0.12),(32,0.24),(32.5,0.06),(34,0.06),(36,0.07),(38,0.02),(40,0.1),(42,0.06),(44,0.09),(46,0.12),(47,0.09),(48,0.65),(48.7,0.27),(49.5,0.21),(50.5,0.09),(52,0.13),(54,0.06),(56,0.12),(58,0.06),(60,0.18),(62,0.06),(64,0.13),(66,0.06),(68,0.07),(70,0.12),(72,0.13),(74,0.1),(75,0.02),(76.5,0.27),(77.5,0.06),(79,0.06),(81,0.09),(83,0.04),(85,0.06),(87,0.02),(89.5,0.06)]
RD6 = [(0.5,-0.05),(4,0.37),(5,0.3),(8,0.35),(22,0.92),(26.5,0.7),(28,0.75),(30,0.8),(32.5,0.28),(34,0.08),(38,0.18),(41,0.05),(43,0.1),(45,0.05),(46.5,-0.1),(50,0.35),(58,0.86),(61,0.84),(64,0.78),(73,0.8),(78,0.25),(84,0.45)]
BD6 = [(1.5,0.3),(3,0.47),(4.5,0.48),(8,0.35),(15.5,0.2),(17,0.52),(20,0.45),(22.5,0.38),(25,0.62),(28,0.62),(30,0.63),(32,0.13),(34,0.2),(35,0.25),(37,0.3),(40,0.18),(42,0.24),(44,0.28),(45,0.25),(47,0.5),(49,0.0),(50,-0.05),(58,0.48),(59,0.38),(62,-0.08),(63.5,-0.3),(66,-0.28),(70,-0.25),(71,-0.15),(73,-0.3),(75,-0.2),(78,-0.32),(80.5,-0.04),(85,0.02)]
GD6 = [(1,-0.92),(3,-0.9),(17.5,0.14),(22.5,-0.19),(27,-0.08),(29,-0.18),(31,-0.22),(48.5,0.25),(50.5,-0.55),(57.5,-0.12),(59,-0.2),(61,-0.25),(64,-0.35),(66,-0.6),(68,-0.5),(72,-0.52),(74,-0.55),(78,-0.9)]
VL6 = [2.8, 6.6, 10.4, 12.3, 14.4, 20.5, 22.8, 26.6, 29.2, 31.8, 34.7, 37.3, 42.3, 44.4, 50.2, 52.1, 53.7, 56.0, 57.6, 62.3, 64.4, 67.9, 70.5, 73.4, 75.7, 78.1, 84.1, 86.3, 88.3]
MB6 = [(1.8,5.0),(7.0,9.0),(16.7,19.9),(22.5,23.7),(27.0,30.2),(32.8,35.5),(38.0,47.0),(56.7,58.7),(61.8,66.3),(67.6,72.2),(74.1,89.5)]

BEAR_TICKS = [-1, -0.5, 0, 0.5, 1]
BEAR_TEXT = ["\u22121.0", "\u22120.5", "0.0", "0.5", "1.0"]
ERR_TICKS = [0, 0.5, 1, 1.5, 2]
ERR_TEXT = ["0.0", "0.5", "1.0", "1.5", "2.0"]
TIME_TICKS = [0, 20, 40, 60, 80]

PANELS = [
    dict(R=R1, B=B1, G=G1, E=E1, RD=RD1, BD=BD1, GD=GD1, VL=VL1, MB=MB1),
    dict(R=R2, B=B2, G=G2, E=E2, RD=RD2, BD=BD2, GD=GD2, VL=VL2, MB=MB2),
    dict(R=R3, B=B3, G=G3, E=E3, RD=RD3, BD=BD3, GD=GD3, VL=VL3, MB=MB3),
    dict(R=R4, B=B4, G=G4, E=E4, RD=RD4, BD=BD4, GD=GD4, VL=VL4, MB=MB4),
    dict(R=R5, B=B5, G=G5, E=E5, RD=RD5, BD=BD5, GD=GD5, VL=VL5, MB=MB5),
    dict(R=R6, B=B6, G=G6, E=E6, RD=RD6, BD=BD6, GD=GD6, VL=VL6, MB=MB6),
]

# ---------------- styling ----------------
W, H = 1158, 805
OFF = 8  # page body margin compensation (px)
COLS = [(120 - OFF, 585 - OFF), (602 - OFF, 1067 - OFF)]
ROWS = [(20 - OFF, 235 - OFF), (265 - OFF, 480 - OFF), (511 - OFF, 726 - OFF)]
TICKFONT = dict(family="Liberation Serif, DejaVu Serif, serif", size=25, color="black")
LABELFONT = dict(family="DejaVu Sans", size=21, color="black")
COLORS = dict(R=("#ff0000", "#f08080", "#ff0000"),
              B=("#0000ff", "#87cefa", "#0000ff"),
              G=("#008000", "#90ee90", "#008000"))
GAP = "\u2002"  # spacing between tick mark and tick label

fig = go.Figure()
layout = dict(width=W, height=H, margin=dict(l=0, r=0, t=0, b=0, pad=0, autoexpand=False),
              paper_bgcolor="white", plot_bgcolor="white", showlegend=False)

for i, p in enumerate(PANELS):
    r, c = divmod(i, 2)
    n = i + 1
    xa = "x" if n == 1 else f"x{n}"
    ya = "y" if n == 1 else f"y{2*i+1}"
    ye = f"y{2*i+2}"
    xkey = "xaxis" if n == 1 else f"xaxis{n}"
    ykey = "yaxis" if n == 1 else f"yaxis{2*i+1}"
    ekey = f"yaxis{2*i+2}"
    x0, x1 = COLS[c]
    y0, y1 = ROWS[r]
    xd = [x0 / W, x1 / W]
    yd = [1 - y1 / H, 1 - y0 / H]

    vx, vy = [], []
    for t in p["VL"]:
        vx += [t, t, None]
        vy += [-1, 1, None]
    fig.add_trace(go.Scatter(x=vx, y=vy, mode="lines", xaxis=xa, yaxis=ya,
                             line=dict(color="rgba(205,80,215,0.7)", width=2.2, dash="10px,5px"),
                             hoverinfo="skip"))
    mx, my = [], []
    for a, b in p["MB"]:
        mx += [a, b, None]
        my += [0, 0, None]
    fig.add_trace(go.Scatter(x=mx, y=my, mode="lines", xaxis=xa, yaxis=ya,
                             line=dict(color="rgba(185,30,195,0.7)", width=5),
                             hoverinfo="skip"))
    for key in ["R", "B", "G"]:
        dark, light, _ = COLORS[key]
        t = [q[0] for q in p[key]]
        fig.add_trace(go.Scatter(x=t, y=[q[1] for q in p[key]], mode="lines", xaxis=xa, yaxis=ya,
                                 line=dict(color=dark, width=2.4), hoverinfo="skip"))
        fig.add_trace(go.Scatter(x=t, y=[q[2] for q in p[key]], mode="lines", xaxis=xa, yaxis=ya,
                                 line=dict(color=light, width=2.4), hoverinfo="skip"))
    for key in ["R", "B", "G"]:
        pts = p[key + "D"]
        fig.add_trace(go.Scatter(x=[q[0] for q in pts], y=[q[1] for q in pts], mode="markers",
                                 xaxis=xa, yaxis=ya,
                                 marker=dict(color=COLORS[key][2], size=7, line=dict(width=0)),
                                 hoverinfo="skip"))
    fig.add_trace(go.Scatter(x=[q[0] for q in p["E"]], y=[q[1] for q in p["E"]], mode="lines",
                             xaxis=xa, yaxis=ye, line=dict(color="black", width=2.2),
                             hoverinfo="skip"))

    common = dict(ticks="outside", ticklen=8, tickwidth=2, tickcolor="black", showline=True,
                  linecolor="black", linewidth=2, zeroline=False, tickfont=TICKFONT,
                  automargin=False, ticklabeloverflow="allow")
    layout[xkey] = dict(domain=xd, anchor=ya, range=[0, 90], tickvals=TIME_TICKS,
                        showticklabels=(r == 2), mirror=True, showgrid=True,
                        gridcolor="#b0b0b0", gridwidth=1.6, **common)
    layout[ykey] = dict(domain=yd, anchor=xa, range=[-1, 1], tickvals=BEAR_TICKS,
                        ticktext=[s + GAP for s in BEAR_TEXT], showticklabels=(c == 0),
                        showgrid=True, gridcolor="#b0b0b0", gridwidth=1.6, **common)
    layout[ekey] = dict(overlaying=ya, anchor=xa, side="right", range=[0, 2],
                        tickvals=ERR_TICKS, ticktext=[GAP + s for s in ERR_TEXT],
                        showticklabels=(c == 1), showgrid=False, **common)

layout["annotations"] = [
    dict(text="Bearings", x=(23 - OFF) / W, y=1 - (373 - OFF) / H, xref="paper", yref="paper",
         textangle=-90, showarrow=False, font=LABELFONT, xanchor="center", yanchor="middle"),
    dict(text="Estimation Error", x=(1140 - OFF) / W, y=1 - (373 - OFF) / H, xref="paper",
         yref="paper", textangle=-90, showarrow=False, font=LABELFONT, xanchor="center",
         yanchor="middle"),
    dict(text="Time (s)", x=(352.5 - OFF) / W, y=1 - (790 - OFF) / H, xref="paper", yref="paper",
         showarrow=False, font=LABELFONT, xanchor="center", yanchor="middle"),
    dict(text="Time (s)", x=(834.5 - OFF) / W, y=1 - (790 - OFF) / H, xref="paper", yref="paper",
         showarrow=False, font=LABELFONT, xanchor="center", yanchor="middle"),
]
fig.update_layout(**layout)
fig.write_html("out.html")
